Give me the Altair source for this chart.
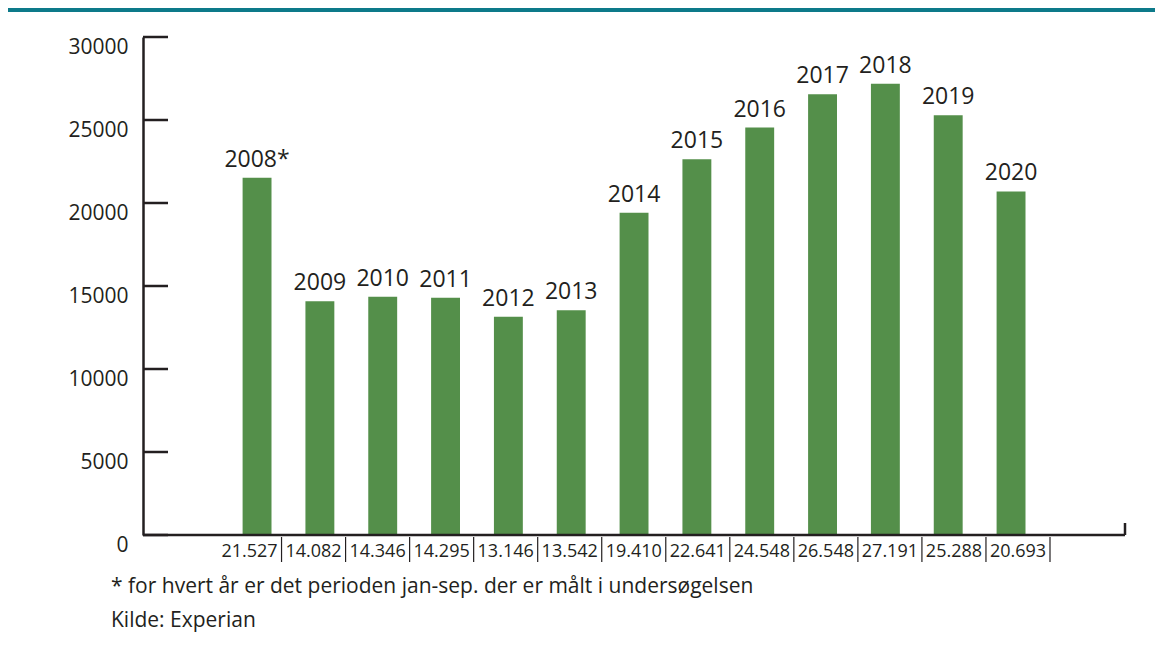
import altair as alt
import pandas as pd

years = ["2008*", "2009", "2010", "2011", "2012", "2013", "2014",
         "2015", "2016", "2017", "2018", "2019", "2020"]
values = [21527, 14082, 14346, 14295, 13146, 13542, 19410,
          22641, 24548, 26548, 27191, 25288, 20693]
value_labels = ["21.527", "14.082", "14.346", "14.295", "13.146", "13.542", "19.410",
                "22.641", "24.548", "26.548", "27.191", "25.288", "20.693"]
y_ticks = [0, 5000, 10000, 15000, 20000, 25000, 30000]
notes = ["* for hvert år er det perioden jan-sep. der er målt i undersøgelsen",
         "Kilde: Experian"]

TEXT = "#231f20"
GREEN = "#548f4a"
TEAL = "#0d7a8a"
FONT = "Open Sans"
W, H = 982, 498

df = pd.DataFrame({"year": years, "value": values, "label": value_labels})
ticks_df = pd.DataFrame({"tick": y_ticks})
notes_df = pd.DataFrame({"note": notes, "line": [0, 1]})

bar_scale = alt.Scale(range=[99.6, 882.5], paddingInner=0.54, paddingOuter=0)
xbar = alt.X("year:N", sort=years, title=None, scale=bar_scale,
             axis=alt.Axis(labels=False, ticks=False, domain=False, grid=False))
yq = alt.Y("value:Q", title=None,
           scale=alt.Scale(domain=[0, 30000], nice=False, zero=True),
           axis=alt.Axis(values=y_ticks, ticks=False, grid=False, domain=True,
                         domainColor=TEXT, domainWidth=2.5, labelFont=FONT,
                         labelFontSize=21, labelColor=TEXT, labelPadding=15,
                         labelOffset=10, format="d"))

bars = alt.Chart(df).mark_bar(color=GREEN).encode(x=xbar, y=yq)

year_text = alt.Chart(df).mark_text(
    font=FONT, fontSize=23, color=TEXT, baseline="alphabetic", dy=-11
).encode(x=alt.X("year:N", sort=years), y=alt.Y("value:Q"), text="year:N")

ytick_rules = alt.Chart(ticks_df).mark_rule(color=TEXT, strokeWidth=2.5).encode(
    x=alt.value(0), x2=alt.value(25), y=alt.Y("tick:Q")
)

baseline_rule = alt.Chart(notes_df.head(1)).mark_rule(color=TEXT, strokeWidth=2.5).encode(
    x=alt.value(0), x2=alt.value(W), y=alt.value(H)
)

end_tick = alt.Chart(notes_df.head(1)).mark_rule(color=TEXT, strokeWidth=2.5).encode(
    x=alt.value(W), y=alt.value(H - 12), y2=alt.value(H)
)

base_main = alt.layer(bars, year_text, ytick_rules, baseline_rule, end_tick)

lab_scale = alt.Scale(range=[74.5, 907], paddingInner=0, paddingOuter=0)
row_text = alt.Chart(df).mark_text(
    font=FONT, fontSize=18, color=TEXT, baseline="middle"
).encode(
    x=alt.X("label:N", sort=value_labels, scale=lab_scale, axis=None),
    y=alt.value(H + 17), text="label:N"
)
row_seps = alt.Chart(df).mark_rule(color=TEXT, strokeWidth=1.2).encode(
    x=alt.X("label:N", sort=value_labels, scale=lab_scale, axis=None, bandPosition=1),
    y=alt.value(H + 2), y2=alt.value(H + 27)
)

note_text = alt.Chart(notes_df).mark_text(
    font=FONT, fontSize=21, color=TEXT, align="left", baseline="middle"
).encode(
    x=alt.value(-32),
    y=alt.Y("line:Q", scale=alt.Scale(domain=[0, 1], range=[550, 584]), axis=None),
    text="note:N"
)

top_band = alt.Chart(notes_df.head(1)).mark_rect(color=TEAL).encode(
    x=alt.value(-135), x2=alt.value(W + 30), y=alt.value(-29), y2=alt.value(-25)
)

chart = alt.layer(base_main, row_text, row_seps, note_text, top_band).resolve_scale(
    x="independent", y="independent"
).properties(
    width=W, height=H,
    padding={"left": 135, "top": 29, "right": 30, "bottom": 100},
    autosize=alt.AutoSizeParams(type="none"),
    background="white"
).configure_view(stroke=None)

chart.save("out.html", embed_options={"renderer": "svg", "actions": False})
